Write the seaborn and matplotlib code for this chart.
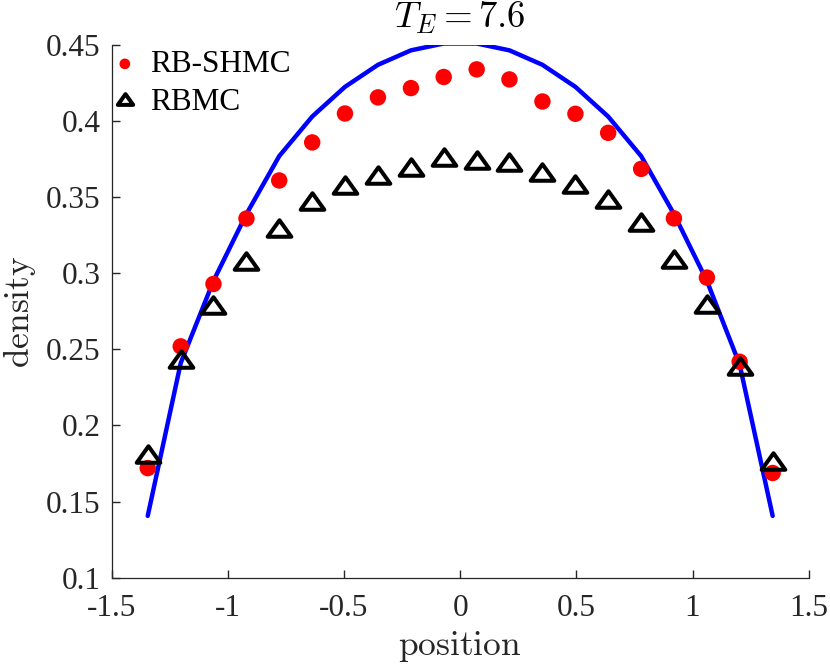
import numpy as np
import pandas as pd
import matplotlib
matplotlib.use("Agg")
import matplotlib.pyplot as plt
from matplotlib.path import Path
import seaborn as sns

# bin centres (position)
position = [-1.345, -1.203, -1.062, -0.920, -0.779, -0.637, -0.496, -0.354, -0.212, -0.071,
            0.071, 0.212, 0.354, 0.496, 0.637, 0.779, 0.920, 1.062, 1.203, 1.345]

# exact density (blue line)
exact = [0.1406, 0.241, 0.295, 0.339, 0.377, 0.403, 0.4225, 0.437, 0.4465, 0.451,
         0.451, 0.4465, 0.437, 0.4225, 0.403, 0.377, 0.339, 0.295, 0.240, 0.1406]

# RB-SHMC estimate (red dots)
rb_shmc = [0.172, 0.252, 0.293, 0.336, 0.361, 0.386, 0.405, 0.4156, 0.4217, 0.429,
           0.434, 0.4274, 0.4129, 0.4048, 0.3923, 0.3686, 0.3361, 0.2972, 0.2419, 0.1688]

# RBMC estimate (black triangles)
rbmc = [0.1815, 0.244, 0.2795, 0.308, 0.3295, 0.3477, 0.3583, 0.3646, 0.3697, 0.3763,
        0.3745, 0.373, 0.3664, 0.3587, 0.3488, 0.3339, 0.3093, 0.2796, 0.239, 0.1764]

df = pd.DataFrame({"position": position, "exact": exact, "RB-SHMC": rb_shmc, "RBMC": rbmc})

sns.set_theme(style="white")
plt.rcParams["font.family"] = ["Liberation Serif", "DejaVu Serif"]
plt.rcParams["mathtext.fontset"] = "cm"

fig = plt.figure(figsize=(8.3, 6.66), dpi=100)
ax = fig.add_axes([0.1346, 0.1326, 0.8397, 0.7998])

# wide triangle like MATLAB's, closed path
tri = Path([(-1.0, -0.7), (1.0, -0.7), (0.0, 0.7), (-1.0, -0.7)],
           [Path.MOVETO, Path.LINETO, Path.LINETO, Path.CLOSEPOLY])

sns.lineplot(data=df, x="position", y="exact", ax=ax, color="#0000ff", lw=3.2, zorder=2)
sns.scatterplot(data=df, x="position", y="RB-SHMC", ax=ax, color="#ff0000", s=140,
                edgecolor="none", label="RB-SHMC", zorder=3)
ax.plot(df["position"], df["RBMC"], linestyle="none", marker=tri, markersize=17,
        markerfacecolor="none", markeredgecolor="black", markeredgewidth=2.9,
        label="RBMC", zorder=4)

ax.set_xlim(-1.5, 1.5)
ax.set_ylim(0.1, 0.45)
ax.set_xticks([-1.5, -1, -0.5, 0, 0.5, 1, 1.5])
ax.set_xticklabels(["-1.5", "-1", "-0.5", "0", "0.5", "1", "1.5"])
ax.set_yticks([0.1, 0.15, 0.2, 0.25, 0.3, 0.35, 0.4, 0.45])
ax.set_yticklabels(["0.1", "0.15", "0.2", "0.25", "0.3", "0.35", "0.4", "0.45"])

ax.tick_params(axis="both", direction="in", length=6, width=1.0, colors="#262626",
               labelsize=22.5, bottom=True, left=True)
ax.tick_params(axis="x", pad=12)
ax.tick_params(axis="y", pad=8)
for side in ["top", "right"]:
    ax.spines[side].set_visible(False)
for side in ["left", "bottom"]:
    ax.spines[side].set_color("#262626")
    ax.spines[side].set_linewidth(0.9)

ax.set_xlabel(r"$\mathrm{position}$", fontsize=25.5, color="#262626", labelpad=4)
ax.set_ylabel(r"$\mathrm{density}$", fontsize=25.5, color="#262626", labelpad=6)
ax.text(0.5, 1.032, r"$T_E = 7.6$", transform=ax.transAxes, ha="center", va="baseline",
        fontsize=26.5, color="black")

leg = ax.legend(loc="upper left", frameon=False, fontsize=22.5, markerscale=0.65,
                handletextpad=0.2, borderaxespad=0.0, labelspacing=0.28,
                bbox_to_anchor=(-0.026, 1.014), handlelength=1.2)
for t in leg.get_texts():
    t.set_color("black")

fig.savefig("out.png", dpi=100)
